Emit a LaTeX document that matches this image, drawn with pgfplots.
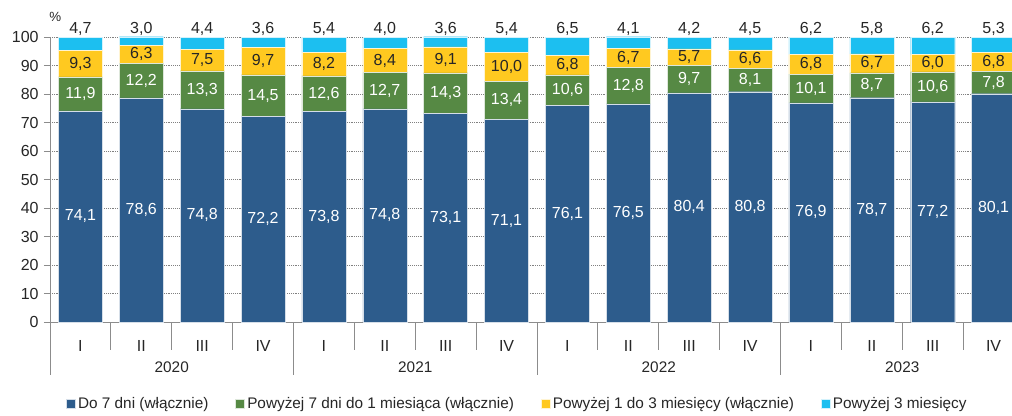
\documentclass[border=0pt]{standalone}
\usepackage{pgfplots}
\pgfplotsset{compat=1.18}
\usepackage{pgfplotstable}
\usepackage{fontspec}
\setmainfont{Liberation Sans}

\definecolor{cblue}{HTML}{2D5C8C}
\definecolor{cgreen}{HTML}{568944}
\definecolor{cyellow}{HTML}{FFC920}
\definecolor{ccyan}{HTML}{1CBFF0}
\definecolor{txt}{HTML}{262626}
\definecolor{axl}{HTML}{8C8C8C}

% a = do 7 dni, b = 7 dni - 1 mies., c = 1-3 mies., d = powyzej 3 mies.
\pgfplotstableread{
x a b c d
0 74.1 11.9 9.3 4.7
1 78.6 12.2 6.3 3.0
2 74.8 13.3 7.5 4.4
3 72.2 14.5 9.7 3.6
4 73.8 12.6 8.2 5.4
5 74.8 12.7 8.4 4.0
6 73.1 14.3 9.1 3.6
7 71.1 13.4 10.0 5.4
8 76.1 10.6 6.8 6.5
9 76.5 12.8 6.7 4.1
10 80.4 9.7 5.7 4.2
11 80.8 8.1 6.6 4.5
12 76.9 10.1 6.8 6.2
13 78.7 8.7 6.7 5.8
14 77.2 10.6 6.0 6.2
15 80.1 7.8 6.8 5.3
}\data

\pgfplotsset{
  base/.style={width=730.5pt, height=213.75pt, scale only axis,
    xmin=-0.5, xmax=15.5, ymin=0, ymax=100,
    /pgf/number format/assume math mode=true},
  legsq/.style={legend image code/.code={\fill[##1] (0pt,-3.4pt) rectangle (6.8pt,3.4pt);}},
  vlab/.style={draw=none, mark=none,
    nodes near coords={\pgfmathprintnumber[fixed,fixed zerofill,precision=1,use comma,assume math mode=true]{\pgfplotspointmeta}},
    point meta=explicit, nodes near coords align=center,
    nodes near coords style={font=\fontsize{12}{14}\selectfont}},
}

\begin{document}
\fontsize{11.5}{13.8}\selectfont
\begin{tikzpicture}
\begin{axis}[base, name=ax, ybar stacked, bar width=33pt, clip=false,
  axis x line*=bottom, axis y line*=left,
  axis line style={draw=axl, line width=0.6pt},
  ytick={0,10,...,100}, ymajorgrids,
  grid style={densely dotted, draw=gray, line width=0.6pt},
  tick align=outside, major tick length=4.5pt,
  ytick style={draw=axl, line width=0.6pt},
  xtick={0,...,15}, xtick style={draw=none},
  xticklabels={I,II,III,IV,I,II,III,IV,I,II,III,IV,I,II,III,IV},
  xticklabel style={yshift=-5.4pt},
  ticklabel style={text=txt, font=\fontsize{12}{14}\selectfont},
  legend style={at={(0.012,-0.245)}, anchor=north west, draw=none,
    legend columns=4, text=txt,
    /tikz/every even column/.append style={column sep=18pt}},
  legend cell align=left,
]
\addplot[fill=cblue, draw=white!80!cblue, line width=0.3pt, legsq] table[x=x, y=a]{\data};
\addlegendentry{Do 7 dni (włącznie)}
\addplot[fill=cgreen, draw=white!80!cgreen, line width=0.3pt, legsq] table[x=x, y=b]{\data};
\addlegendentry{Powyżej 7 dni do 1 miesiąca (włącznie)\hspace{36pt}}
\addplot[fill=cyellow, draw=white!80!cyellow, line width=0.3pt, legsq] table[x=x, y=c]{\data};
\addlegendentry{Powyżej 1 do 3 miesięcy (włącznie)}
\addplot[fill=ccyan, draw=white!80!ccyan, line width=0.3pt, legsq] table[x=x, y=d]{\data};
\addlegendentry{Powyżej 3 miesięcy}

\pgfplotsinvokeforeach{-0.5,0.5,...,15.5}{
  \draw[axl, line width=0.6pt] (axis cs:#1,0) -- ++(0pt,-21pt);
}
\pgfplotsinvokeforeach{-0.5,3.5,7.5,11.5,15.5}{
  \draw[axl, line width=0.6pt] (axis cs:#1,0) -- ++(0pt,-39.75pt);
}
\node[text=txt] at ([yshift=-33.75pt]axis cs:1.5,0) {2020};
\node[text=txt] at ([yshift=-33.75pt]axis cs:5.5,0) {2021};
\node[text=txt] at ([yshift=-33.75pt]axis cs:9.5,0) {2022};
\node[text=txt] at ([yshift=-33.75pt]axis cs:13.5,0) {2023};
\node[text=txt, font=\fontsize{10}{12}\selectfont] at ([shift={(4pt,15pt)}]axis cs:-0.5,100) {\%};
\end{axis}

\begin{axis}[base, hide axis, clip=false]
\addplot[vlab, nodes near coords style={text=white}] table[x=x, y expr=\thisrow{a}/2, meta=a]{\data};
\addplot[vlab, nodes near coords style={text=white}] table[x=x, y expr=\thisrow{a}+\thisrow{b}/2, meta=b]{\data};
\addplot[vlab, nodes near coords style={text=txt}] table[x=x, y expr=\thisrow{a}+\thisrow{b}+\thisrow{c}/2, meta=c]{\data};
\addplot[draw=none, mark=none, point meta=explicit,
  nodes near coords={\pgfmathprintnumber[fixed,fixed zerofill,precision=1,use comma,assume math mode=true]{\pgfplotspointmeta}},
  nodes near coords style={text=txt, anchor=base, yshift=2.5pt, font=\fontsize{12}{14}\selectfont}]
  table[x=x, y expr=100, meta=d]{\data};
\end{axis}

\pgfresetboundingbox
\path ([shift={(-37.5pt,27.75pt)}]ax.north west) rectangle ([shift={(-9pt,-69.75pt)}]ax.south east);
\end{tikzpicture}
\end{document}
